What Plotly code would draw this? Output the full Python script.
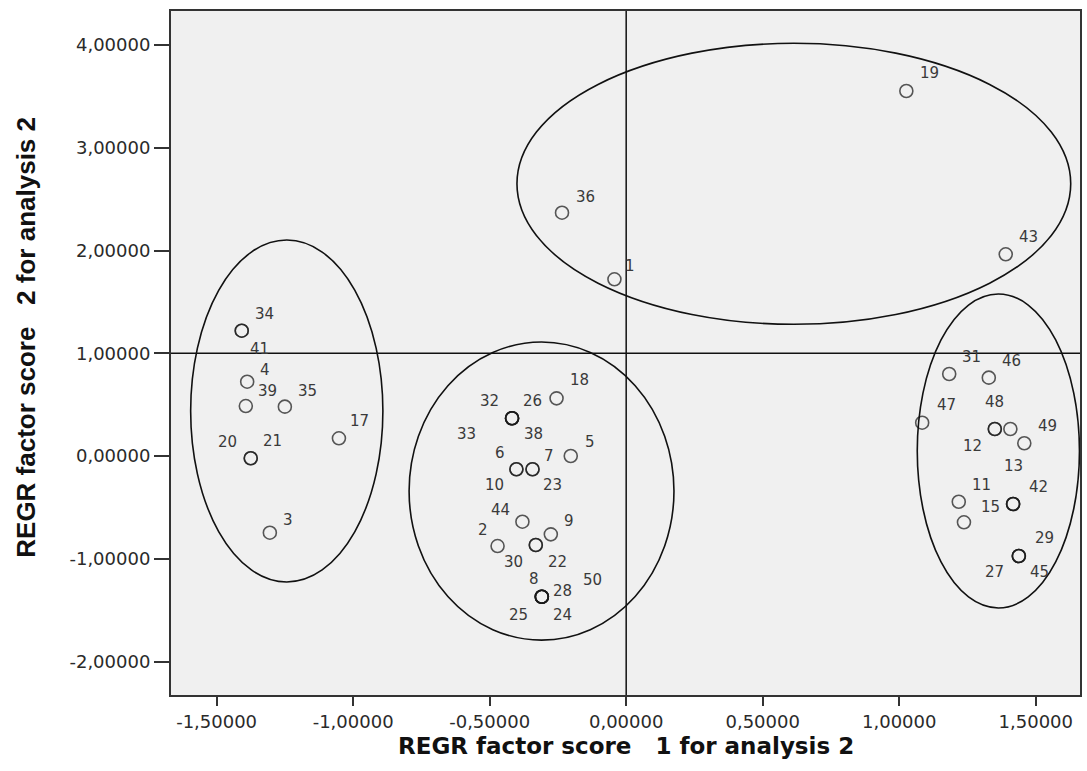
import plotly.graph_objects as go

# ---- data ----
case_ids = [1, 2, 3, 4, 5, 6, 7, 8, 9, 10,
            11, 12, 13, 14, 15, 16, 17, 18, 19, 20,
            21, 22, 23, 24, 25, 26, 27, 28, 29, 30,
            31, 32, 33, 34, 35, 36, 38, 39, 41, 42,
            43, 44, 45, 46, 47, 48, 49, 50]
score1 = [-0.043, -0.471, -1.305, -1.388, -0.203, -0.402, -0.343, -0.309, -0.276, -0.402,
          1.218, 1.350, 1.417, 1.407, 1.417, 1.237, -1.052, -0.255, 1.026, -1.375,
          -1.375, -0.331, -0.343, -0.309, -0.309, -0.418, 1.438, -0.309, 1.438, -0.331,
          1.183, -0.418, -0.418, -1.408, -1.250, -0.235, -0.418, -1.393, -1.408, 1.417,
          1.390, -0.380, 1.438, 1.328, 1.084, 1.350, 1.458, -0.309]
score2 = [1.720, -0.875, -0.745, 0.724, 0.001, -0.128, -0.128, -1.368, -0.761, -0.128,
          -0.444, 0.264, -0.466, 0.264, -0.466, -0.644, 0.173, 0.562, 3.552, -0.021,
          -0.021, -0.865, -0.128, -1.368, -1.368, 0.368, -0.972, -1.368, -0.972, -0.865,
          0.799, 0.368, 0.368, 1.220, 0.481, 2.368, 0.368, 0.487, 1.220, -0.466,
          1.963, -0.638, -0.972, 0.763, 0.325, 0.264, 0.125, -1.368]

x_ticks = [-1.5, -1.0, -0.5, 0.0, 0.5, 1.0, 1.5]
y_ticks = [-2, -1, 0, 1, 2, 3, 4]

# cluster ellipses (centre / half-axes in score units)
ell_cx = [-1.243, -0.310, 0.614, 1.363]
ell_cy = [0.439, -0.340, 2.649, 0.050]
ell_rx = [0.352, 0.485, 1.014, 0.297]
ell_ry = [1.663, 1.450, 1.367, 1.527]

ref_x = 0.0
ref_y = 1.0

x_title = "REGR factor score\u00a0\u00a0\u00a01 for analysis 2"
y_title = "REGR factor score\u00a0\u00a0\u00a02 for analysis 2"


def fmt(v):
    # SPSS style: comma decimal separator, plain hyphen minus
    return f"{v:.5f}".replace(".", ",")


# ---- label placement (pixel offsets right / down from the point) ----
label_offset = {
    34: (23, -17), 41: (18, 18), 4: (18, -12), 39: (22, -15), 35: (23, -16),
    17: (21, -17), 20: (-23, -16), 21: (22, -17), 3: (18, -13),
    18: (23, -18), 32: (-23, -17), 26: (20, -17), 33: (-46, 16), 38: (21, 16),
    5: (19, -14), 6: (-16, -16), 7: (16, -13), 10: (-22, 16), 23: (20, 16),
    44: (-22, -12), 9: (18, -13), 2: (-15, -16), 30: (-22, 17), 22: (22, 17),
    8: (-8, -18), 28: (21, -6), 50: (51, -17), 25: (-23, 18), 24: (21, 18),
    31: (22, -17), 46: (23, -17), 47: (24, -18), 48: (0, -27), 12: (-22, 17),
    49: (23, -17), 13: (0, -38), 11: (23, -17), 42: (25, -17), 15: (-23, 3),
    29: (26, -18), 27: (-24, 16), 45: (21, 16),
    19: (23, -18), 36: (23, -16), 1: (16, -13), 43: (23, -17),
}

fig = go.Figure()
fig.add_trace(go.Scatter(
    x=score1, y=score2, mode="markers",
    marker=dict(symbol="circle-open", size=13,
                line=dict(width=1.6, color="rgba(25,25,25,0.72)"),
                color="rgba(25,25,25,0.72)"),
    text=[str(c) for c in case_ids], hoverinfo="text", showlegend=False,
))

label_font = dict(family="DejaVu Sans", size=15, color="#3a3a3a")
for cid, sx, sy in zip(case_ids, score1, score2):
    if cid in label_offset:
        dx, dy = label_offset[cid]
        fig.add_annotation(x=sx, y=sy, xref="x", yref="y", text=str(cid),
                           showarrow=False, xshift=dx, yshift=-dy, font=label_font)

for cx, cy, rx, ry in zip(ell_cx, ell_cy, ell_rx, ell_ry):
    fig.add_shape(type="circle", xref="x", yref="y",
                  x0=cx - rx, x1=cx + rx, y0=cy - ry, y1=cy + ry,
                  line=dict(color="#111111", width=1.6), layer="above")

fig.add_shape(type="line", xref="x", yref="paper", x0=ref_x, x1=ref_x, y0=0, y1=1,
              line=dict(color="#111111", width=1.5), layer="above")
fig.add_shape(type="line", xref="paper", yref="y", x0=0, x1=1, y0=ref_y, y1=ref_y,
              line=dict(color="#111111", width=1.5), layer="above")

# axis titles (placed as paper annotations for exact positioning)
fig.add_annotation(xref="paper", yref="paper", x=0.5, y=-0.075,
                   xanchor="center", yanchor="middle", showarrow=False,
                   text=x_title,
                   font=dict(family="DejaVu Sans", size=23, color="#111111", weight="bold"))
fig.add_annotation(xref="paper", yref="paper", x=-0.159, y=0.523,
                   xanchor="center", yanchor="middle", showarrow=False,
                   textangle=-90, text=y_title,
                   font=dict(family="Liberation Sans", size=26, color="#111111", weight="bold"))

tick_font = dict(family="DejaVu Sans", size=18, color="#2a2a2a")
fig.update_layout(
    width=1087, height=771,
    margin=dict(l=171, r=5, t=11, b=76),
    paper_bgcolor="white", plot_bgcolor="#f0f0f0",
    showlegend=False,
    xaxis=dict(range=[-1.667, 1.662], tickvals=x_ticks,
               ticktext=[fmt(v) for v in x_ticks],
               ticks="outside", ticklen=9, tickwidth=2, tickcolor="#333333",
               showgrid=False, zeroline=False, showline=True, linewidth=2,
               linecolor="#333333", mirror=True, tickfont=tick_font),
    yaxis=dict(range=[-2.324, 4.33], tickvals=y_ticks,
               ticktext=[fmt(v) for v in y_ticks],
               ticks="outside", ticklen=15, tickwidth=2, tickcolor="#333333",
               showgrid=False, zeroline=False, showline=True, linewidth=2,
               linecolor="#333333", mirror=True, tickfont=tick_font),
)

fig.write_html("out.html")
